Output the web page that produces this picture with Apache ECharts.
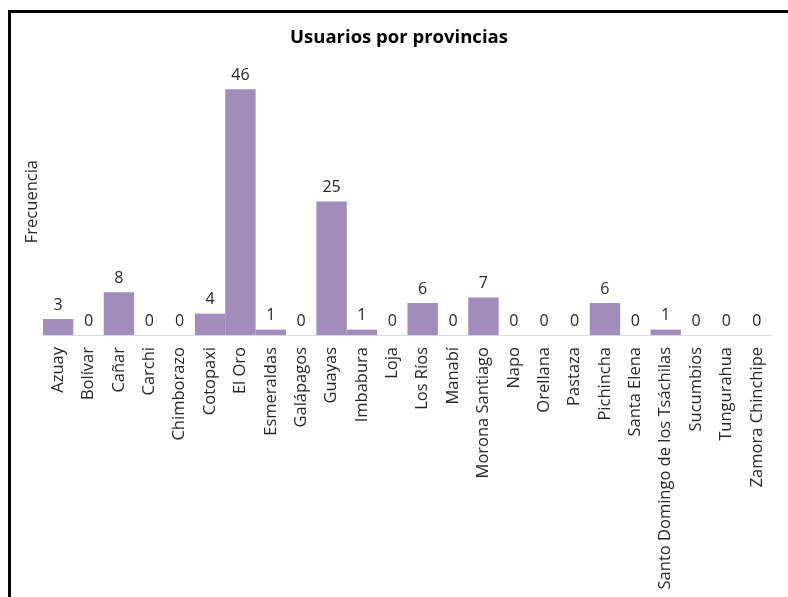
<!DOCTYPE html>
<html>
<head>
<meta charset="utf-8">
<script src="https://cdn.jsdelivr.net/npm/echarts@6/dist/echarts.min.js"></script>
<style>
  html, body { margin: 0; padding: 0; background: #fff; }
  #chart { width: 788px; height: 597px; }
</style>
</head>
<body>
<div id="chart"></div>
<script>
// Provinces of Ecuador and number of users in each
const provincias = [
  'Azuay', 'Bolívar', 'Cañar', 'Carchi', 'Chimborazo', 'Cotopaxi', 'El Oro',
  'Esmeraldas', 'Galápagos', 'Guayas', 'Imbabura', 'Loja', 'Los Ríos', 'Manabí',
  'Morona Santiago', 'Napo', 'Orellana', 'Pastaza', 'Pichincha', 'Santa Elena',
  'Santo Domingo de los Tsáchilas', 'Sucumbios', 'Tungurahua', 'Zamora Chinchipe'
];
const usuarios = [3, 0, 8, 0, 0, 4, 46, 1, 0, 25, 1, 0, 6, 0, 7, 0, 0, 0, 6, 0, 1, 0, 0, 0];

const titulo = 'Usuarios por provincias';
const ejeY = 'Frecuencia';

const FONT = '"Open Sans", sans-serif';
const TEXT = '#262626';

const chart = echarts.init(document.getElementById('chart'), null, { renderer: 'canvas' });

chart.setOption({
  animation: false,
  backgroundColor: '#ffffff',
  title: {
    text: titulo,
    left: 394,
    top: 23,
    textAlign: 'center',
    textStyle: { fontFamily: FONT, fontSize: 18.5, fontWeight: 'bold', color: '#000' }
  },
  grid: { left: 43, right: 16, top: 68, bottom: 262, containLabel: false },
  xAxis: {
    type: 'category',
    data: provincias,
    axisLine: { show: true, lineStyle: { color: '#d9d9d9', width: 1 } },
    axisTick: { show: false },
    axisLabel: {
      interval: 0,
      rotate: 90,
      margin: 12,
      fontFamily: FONT,
      fontSize: 16.5,
      color: TEXT
    }
  },
  yAxis: {
    type: 'value',
    min: 0,
    max: 50,
    interval: 10,
    show: false,
    splitLine: { show: false }
  },
  series: [{
    type: 'bar',
    data: usuarios,
    barCategoryGap: '0%',
    itemStyle: { color: '#a18cbc' },
    label: {
      show: true,
      position: 'top',
      distance: 6,
      fontFamily: FONT,
      fontSize: 16,
      color: TEXT
    }
  }],
  graphic: [
    {
      type: 'text',
      left: 24,
      top: 160,
      rotation: Math.PI / 2,
      style: { text: ejeY, fontFamily: FONT, fontSize: 16.5, fill: TEXT }
    },
    {
      type: 'line',
      shape: { x1: 9.5, y1: 10, x2: 9.5, y2: 597 },
      style: { stroke: '#000', lineWidth: 3 }
    },
    {
      type: 'line',
      shape: { x1: 8, y1: 11.5, x2: 788, y2: 11.5 },
      style: { stroke: '#000', lineWidth: 3 }
    }
  ]
});
</script>
</body>
</html>
